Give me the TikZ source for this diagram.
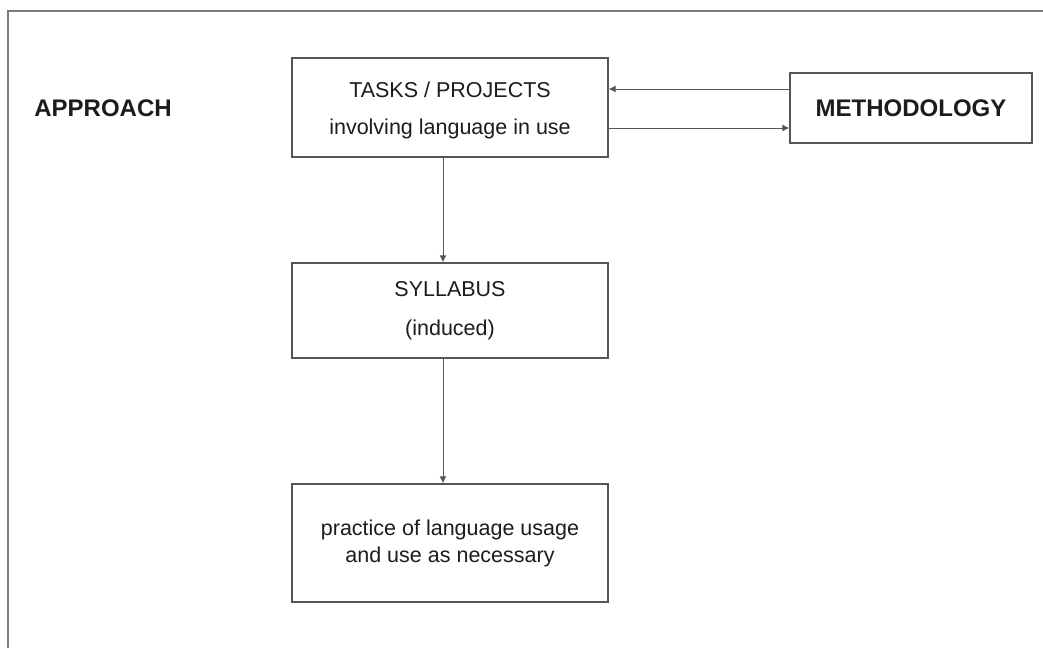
\documentclass[tikz,border=0pt]{standalone}
\usepackage{fontspec}
\setmainfont{Liberation Sans}
\usetikzlibrary{arrows.meta}
\definecolor{boxline}{HTML}{555555}
\definecolor{frameline}{HTML}{7A7A7A}
\definecolor{txt}{HTML}{1C1C1C}
\begin{document}
\begin{tikzpicture}[x=1pt,y=-1pt,
  box/.style={draw=boxline,line width=1.4pt,text=txt,align=center,inner sep=0pt},
  btext/.style={text=txt,align=center,inner sep=0pt},
  lbl/.style={text=txt,font=\fontsize{24}{28}\selectfont\bfseries,inner sep=0pt},
  conn/.style={draw=boxline,line width=1pt,-{Latex[length=7pt,width=7pt]}}]
\useasboundingbox (0,0) rectangle (1043,648);
\fill[white] (0,0) rectangle (1043,648);
\draw[frameline,line width=1.5pt] (8,648) coordinate (fbl) -- (8,11) coordinate (ftl) -- (1043,11) coordinate (ftr);
\node[lbl] (approach) at (103,108) {APPROACH};
\node[box,minimum width=316pt,minimum height=99pt] (tasks) at (450,107.5) {};
\node[btext,font=\fontsize{21.5}{37}\selectfont] (taskstxt) at (450,110.5) {TASKS / PROJECTS\\involving language in use};
\node[box,minimum width=242pt,minimum height=70pt,font=\fontsize{24}{28}\selectfont\bfseries] (meth) at (911,108) {METHODOLOGY};
\node[box,minimum width=316pt,minimum height=95pt,font=\fontsize{21.5}{39}\selectfont] (syl) at (450,310.5) {SYLLABUS\\(induced)};
\node[box,minimum width=316pt,minimum height=118pt,font=\fontsize{21.5}{27}\selectfont] (prac) at (450,543) {practice of language usage\\and use as necessary};
\draw[conn] (meth.west |- 0,89) -- (tasks.east |- 0,89);
\draw[conn] (tasks.east |- 0,128) -- (meth.west |- 0,128);
\draw[conn] ([xshift=-7pt]tasks.south) -- ([xshift=-7pt]syl.north);
\draw[conn] ([xshift=-7pt]syl.south) -- ([xshift=-7pt]prac.north);
\end{tikzpicture}
\end{document}
